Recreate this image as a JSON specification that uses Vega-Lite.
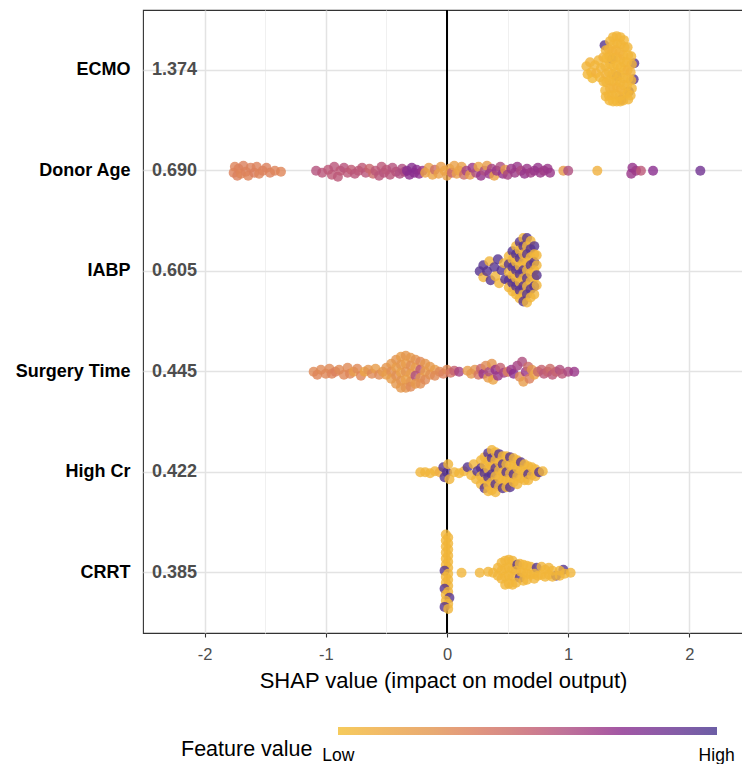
{
  "$schema": "https://vega.github.io/schema/vega-lite/v6.json",
  "width": 600,
  "height": 623,
  "autosize": {"type": "none"},
  "padding": {"left": 143, "top": 10, "right": 0, "bottom": 131},
  "config": {
    "font": "Liberation Sans",
    "view": {"stroke": "#333333", "strokeWidth": 1.1},
    "legend": {"padding": 0}
  },
  "layer": [
    {
      "data": {"values": [{"z": 0}]},
      "mark": {"type": "rule", "color": "#000000", "strokeWidth": 2},
      "encoding": {"x": {"field": "z", "type": "quantitative"}}
    },
    {
      "data": {"values": [
        {"f":"ECMO","s":1.30,"j":-0.25,"v":0.95},
        {"f":"ECMO","s":1.545,"j":-0.07,"v":0.95},
        {"f":"ECMO","s":1.54,"j":0.09,"v":0.95},
        {"f":"ECMO","s":1.50,"j":0.21,"v":0.95},
        {"f":"ECMO","s":1.36,"j":-0.11,"v":0.95},
        {"f":"ECMO","s":1.44,"j":0.29,"v":0.95},
        {"f":"ECMO","s":1.40,"j":0.06,"v":0.95},
        {"f":"ECMO","s":1.15,"j":-0.04,"v":0.05},
        {"f":"ECMO","s":1.16,"j":0.04,"v":0.04},
        {"f":"ECMO","s":1.18,"j":-0.08,"v":0.06},
        {"f":"ECMO","s":1.19,"j":0.02,"v":0.05},
        {"f":"ECMO","s":1.20,"j":0.08,"v":0.03},
        {"f":"ECMO","s":1.22,"j":-0.05,"v":0.05},
        {"f":"ECMO","s":1.23,"j":0.03,"v":0.07},
        {"f":"ECMO","s":1.25,"j":-0.10,"v":0.05},
        {"f":"ECMO","s":1.26,"j":0.07,"v":0.04},
        {"f":"ECMO","s":1.27,"j":-0.02,"v":0.05},
        {"f":"ECMO","s":1.29,"j":-0.13,"v":0.06},
        {"f":"ECMO","s":1.29,"j":0.11,"v":0.05},
        {"f":"ECMO","s":1.31,"j":-0.2,"v":0.05},
        {"f":"ECMO","s":1.315,"j":-0.12,"v":0.04},
        {"f":"ECMO","s":1.305,"j":-0.04,"v":0.05},
        {"f":"ECMO","s":1.31,"j":0.04,"v":0.06},
        {"f":"ECMO","s":1.315,"j":0.12,"v":0.05},
        {"f":"ECMO","s":1.305,"j":0.2,"v":0.04},
        {"f":"ECMO","s":1.31,"j":0.26,"v":0.05},
        {"f":"ECMO","s":1.345,"j":-0.29,"v":0.05},
        {"f":"ECMO","s":1.335,"j":-0.21,"v":0.06},
        {"f":"ECMO","s":1.34,"j":-0.14,"v":0.05},
        {"f":"ECMO","s":1.345,"j":-0.06,"v":0.04},
        {"f":"ECMO","s":1.335,"j":0.02,"v":0.05},
        {"f":"ECMO","s":1.34,"j":0.1,"v":0.05},
        {"f":"ECMO","s":1.345,"j":0.18,"v":0.06},
        {"f":"ECMO","s":1.335,"j":0.25,"v":0.05},
        {"f":"ECMO","s":1.34,"j":0.3,"v":0.04},
        {"f":"ECMO","s":1.37,"j":-0.33,"v":0.05},
        {"f":"ECMO","s":1.375,"j":-0.26,"v":0.05},
        {"f":"ECMO","s":1.365,"j":-0.19,"v":0.06},
        {"f":"ECMO","s":1.37,"j":-0.12,"v":0.05},
        {"f":"ECMO","s":1.375,"j":-0.04,"v":0.04},
        {"f":"ECMO","s":1.365,"j":0.04,"v":0.05},
        {"f":"ECMO","s":1.37,"j":0.11,"v":0.05},
        {"f":"ECMO","s":1.375,"j":0.18,"v":0.06},
        {"f":"ECMO","s":1.365,"j":0.25,"v":0.05},
        {"f":"ECMO","s":1.37,"j":0.31,"v":0.04},
        {"f":"ECMO","s":1.40,"j":-0.34,"v":0.05},
        {"f":"ECMO","s":1.405,"j":-0.27,"v":0.05},
        {"f":"ECMO","s":1.395,"j":-0.2,"v":0.06},
        {"f":"ECMO","s":1.40,"j":-0.13,"v":0.05},
        {"f":"ECMO","s":1.405,"j":-0.05,"v":0.04},
        {"f":"ECMO","s":1.395,"j":0.02,"v":0.05},
        {"f":"ECMO","s":1.40,"j":0.1,"v":0.05},
        {"f":"ECMO","s":1.405,"j":0.17,"v":0.06},
        {"f":"ECMO","s":1.395,"j":0.24,"v":0.05},
        {"f":"ECMO","s":1.40,"j":0.31,"v":0.04},
        {"f":"ECMO","s":1.43,"j":-0.33,"v":0.05},
        {"f":"ECMO","s":1.435,"j":-0.26,"v":0.05},
        {"f":"ECMO","s":1.425,"j":-0.18,"v":0.06},
        {"f":"ECMO","s":1.43,"j":-0.11,"v":0.05},
        {"f":"ECMO","s":1.435,"j":-0.03,"v":0.04},
        {"f":"ECMO","s":1.425,"j":0.05,"v":0.05},
        {"f":"ECMO","s":1.43,"j":0.12,"v":0.05},
        {"f":"ECMO","s":1.435,"j":0.19,"v":0.06},
        {"f":"ECMO","s":1.425,"j":0.26,"v":0.05},
        {"f":"ECMO","s":1.43,"j":0.31,"v":0.04},
        {"f":"ECMO","s":1.46,"j":-0.3,"v":0.05},
        {"f":"ECMO","s":1.465,"j":-0.23,"v":0.05},
        {"f":"ECMO","s":1.455,"j":-0.15,"v":0.06},
        {"f":"ECMO","s":1.46,"j":-0.08,"v":0.05},
        {"f":"ECMO","s":1.465,"j":0.0,"v":0.04},
        {"f":"ECMO","s":1.455,"j":0.08,"v":0.05},
        {"f":"ECMO","s":1.46,"j":0.15,"v":0.05},
        {"f":"ECMO","s":1.465,"j":0.23,"v":0.06},
        {"f":"ECMO","s":1.455,"j":0.3,"v":0.05},
        {"f":"ECMO","s":1.49,"j":-0.23,"v":0.05},
        {"f":"ECMO","s":1.495,"j":-0.15,"v":0.04},
        {"f":"ECMO","s":1.485,"j":-0.08,"v":0.05},
        {"f":"ECMO","s":1.49,"j":0.0,"v":0.06},
        {"f":"ECMO","s":1.495,"j":0.08,"v":0.05},
        {"f":"ECMO","s":1.485,"j":0.15,"v":0.05},
        {"f":"ECMO","s":1.49,"j":0.23,"v":0.04},
        {"f":"ECMO","s":1.495,"j":0.29,"v":0.05},
        {"f":"ECMO","s":1.52,"j":-0.14,"v":0.05},
        {"f":"ECMO","s":1.525,"j":-0.06,"v":0.05},
        {"f":"ECMO","s":1.515,"j":0.02,"v":0.06},
        {"f":"ECMO","s":1.52,"j":0.1,"v":0.05},
        {"f":"ECMO","s":1.525,"j":0.18,"v":0.04},
        {"f":"ECMO","s":1.515,"j":0.25,"v":0.05},

        {"f":"Donor Age","s":-1.76,"j":0.02,"v":0.34},
        {"f":"Donor Age","s":-1.75,"j":-0.04,"v":0.33},
        {"f":"Donor Age","s":-1.73,"j":0.05,"v":0.35},
        {"f":"Donor Age","s":-1.72,"j":-0.02,"v":0.34},
        {"f":"Donor Age","s":-1.70,"j":0.03,"v":0.32},
        {"f":"Donor Age","s":-1.68,"j":-0.05,"v":0.35},
        {"f":"Donor Age","s":-1.66,"j":0.01,"v":0.34},
        {"f":"Donor Age","s":-1.64,"j":0.05,"v":0.33},
        {"f":"Donor Age","s":-1.62,"j":-0.03,"v":0.34},
        {"f":"Donor Age","s":-1.59,"j":0.02,"v":0.36},
        {"f":"Donor Age","s":-1.57,"j":-0.04,"v":0.34},
        {"f":"Donor Age","s":-1.55,"j":0.03,"v":0.33},
        {"f":"Donor Age","s":-1.52,"j":0.0,"v":0.34},
        {"f":"Donor Age","s":-1.49,"j":-0.03,"v":0.35},
        {"f":"Donor Age","s":-1.46,"j":0.02,"v":0.34},
        {"f":"Donor Age","s":-1.42,"j":0.0,"v":0.33},
        {"f":"Donor Age","s":-1.37,"j":0.01,"v":0.32},
        {"f":"Donor Age","s":-1.08,"j":0.0,"v":0.58},
        {"f":"Donor Age","s":-1.03,"j":0.02,"v":0.56},
        {"f":"Donor Age","s":-0.98,"j":-0.01,"v":0.55},
        {"f":"Donor Age","s":-0.95,"j":0.04,"v":0.54},
        {"f":"Donor Age","s":-0.93,"j":-0.04,"v":0.56},
        {"f":"Donor Age","s":-0.90,"j":0.06,"v":0.55},
        {"f":"Donor Age","s":-0.88,"j":0.0,"v":0.54},
        {"f":"Donor Age","s":-0.85,"j":-0.03,"v":0.57},
        {"f":"Donor Age","s":-0.82,"j":0.02,"v":0.55},
        {"f":"Donor Age","s":-0.79,"j":-0.01,"v":0.53},
        {"f":"Donor Age","s":-0.76,"j":0.03,"v":0.56},
        {"f":"Donor Age","s":-0.73,"j":0.0,"v":0.55},
        {"f":"Donor Age","s":-0.70,"j":-0.03,"v":0.54},
        {"f":"Donor Age","s":-0.67,"j":0.02,"v":0.56},
        {"f":"Donor Age","s":-0.64,"j":-0.02,"v":0.48},
        {"f":"Donor Age","s":-0.61,"j":0.03,"v":0.46},
        {"f":"Donor Age","s":-0.59,"j":0.0,"v":0.55},
        {"f":"Donor Age","s":-0.56,"j":0.05,"v":0.56},
        {"f":"Donor Age","s":-0.54,"j":-0.04,"v":0.55},
        {"f":"Donor Age","s":-0.52,"j":0.02,"v":0.57},
        {"f":"Donor Age","s":-0.50,"j":-0.01,"v":0.55},
        {"f":"Donor Age","s":-0.47,"j":0.04,"v":0.56},
        {"f":"Donor Age","s":-0.45,"j":-0.03,"v":0.58},
        {"f":"Donor Age","s":-0.42,"j":0.01,"v":0.57},
        {"f":"Donor Age","s":-0.39,"j":0.03,"v":0.6},
        {"f":"Donor Age","s":-0.37,"j":-0.02,"v":0.6},
        {"f":"Donor Age","s":-0.35,"j":0.01,"v":0.62},
        {"f":"Donor Age","s":-0.33,"j":0.0,"v":0.76},
        {"f":"Donor Age","s":-0.31,"j":0.04,"v":0.75},
        {"f":"Donor Age","s":-0.29,"j":-0.03,"v":0.77},
        {"f":"Donor Age","s":-0.27,"j":0.02,"v":0.75},
        {"f":"Donor Age","s":-0.25,"j":-0.01,"v":0.76},
        {"f":"Donor Age","s":-0.23,"j":0.03,"v":0.74},
        {"f":"Donor Age","s":-0.20,"j":0.0,"v":0.7},
        {"f":"Donor Age","s":-0.18,"j":0.02,"v":0.16},
        {"f":"Donor Age","s":-0.15,"j":-0.03,"v":0.18},
        {"f":"Donor Age","s":-0.12,"j":0.04,"v":0.15},
        {"f":"Donor Age","s":-0.10,"j":-0.01,"v":0.45},
        {"f":"Donor Age","s":-0.07,"j":0.03,"v":0.17},
        {"f":"Donor Age","s":-0.05,"j":-0.04,"v":0.2},
        {"f":"Donor Age","s":-0.02,"j":0.0,"v":0.15},
        {"f":"Donor Age","s":0.00,"j":0.05,"v":0.18},
        {"f":"Donor Age","s":0.02,"j":-0.02,"v":0.16},
        {"f":"Donor Age","s":0.04,"j":0.02,"v":0.5},
        {"f":"Donor Age","s":0.06,"j":-0.05,"v":0.17},
        {"f":"Donor Age","s":0.08,"j":0.03,"v":0.2},
        {"f":"Donor Age","s":0.10,"j":0.0,"v":0.15},
        {"f":"Donor Age","s":0.12,"j":-0.04,"v":0.18},
        {"f":"Donor Age","s":0.14,"j":0.04,"v":0.45},
        {"f":"Donor Age","s":0.16,"j":0.0,"v":0.65},
        {"f":"Donor Age","s":0.19,"j":0.04,"v":0.2},
        {"f":"Donor Age","s":0.21,"j":-0.03,"v":0.7},
        {"f":"Donor Age","s":0.24,"j":0.02,"v":0.6},
        {"f":"Donor Age","s":0.26,"j":-0.04,"v":0.15},
        {"f":"Donor Age","s":0.28,"j":0.05,"v":0.72},
        {"f":"Donor Age","s":0.31,"j":0.0,"v":0.6},
        {"f":"Donor Age","s":0.33,"j":-0.05,"v":0.2},
        {"f":"Donor Age","s":0.35,"j":0.03,"v":0.7},
        {"f":"Donor Age","s":0.37,"j":-0.02,"v":0.65},
        {"f":"Donor Age","s":0.39,"j":0.05,"v":0.15},
        {"f":"Donor Age","s":0.41,"j":0.0,"v":0.7},
        {"f":"Donor Age","s":0.44,"j":-0.04,"v":0.6},
        {"f":"Donor Age","s":0.46,"j":0.03,"v":0.72},
        {"f":"Donor Age","s":0.48,"j":-0.01,"v":0.2},
        {"f":"Donor Age","s":0.50,"j":0.04,"v":0.65},
        {"f":"Donor Age","s":0.53,"j":-0.02,"v":0.7},
        {"f":"Donor Age","s":0.56,"j":0.02,"v":0.68},
        {"f":"Donor Age","s":0.58,"j":-0.04,"v":0.7},
        {"f":"Donor Age","s":0.61,"j":0.0,"v":0.62},
        {"f":"Donor Age","s":0.64,"j":0.03,"v":0.72},
        {"f":"Donor Age","s":0.66,"j":-0.02,"v":0.7},
        {"f":"Donor Age","s":0.69,"j":0.02,"v":0.68},
        {"f":"Donor Age","s":0.72,"j":0.0,"v":0.7},
        {"f":"Donor Age","s":0.75,"j":-0.03,"v":0.72},
        {"f":"Donor Age","s":0.77,"j":0.02,"v":0.7},
        {"f":"Donor Age","s":0.80,"j":0.0,"v":0.68},
        {"f":"Donor Age","s":0.83,"j":-0.02,"v":0.7},
        {"f":"Donor Age","s":0.85,"j":0.02,"v":0.7},
        {"f":"Donor Age","s":0.96,"j":0.0,"v":0.2},
        {"f":"Donor Age","s":1.00,"j":0.0,"v":0.6},
        {"f":"Donor Age","s":1.24,"j":0.0,"v":0.08},
        {"f":"Donor Age","s":1.52,"j":0.03,"v":0.7},
        {"f":"Donor Age","s":1.53,"j":-0.03,"v":0.72},
        {"f":"Donor Age","s":1.56,"j":0.0,"v":0.68},
        {"f":"Donor Age","s":1.60,"j":0.0,"v":0.55},
        {"f":"Donor Age","s":1.70,"j":0.0,"v":0.75},
        {"f":"Donor Age","s":2.09,"j":0.0,"v":0.85},

        {"f":"IABP","s":0.27,"j":0.0,"v":0.95},
        {"f":"IABP","s":0.30,"j":-0.06,"v":0.95},
        {"f":"IABP","s":0.30,"j":0.06,"v":0.05},
        {"f":"IABP","s":0.33,"j":0.0,"v":0.95},
        {"f":"IABP","s":0.35,"j":-0.1,"v":0.05},
        {"f":"IABP","s":0.36,"j":0.09,"v":0.95},
        {"f":"IABP","s":0.39,"j":-0.04,"v":0.95},
        {"f":"IABP","s":0.40,"j":0.05,"v":0.05},
        {"f":"IABP","s":0.42,"j":-0.12,"v":0.95},
        {"f":"IABP","s":0.43,"j":0.12,"v":0.05},
        {"f":"IABP","s":0.45,"j":-0.01,"v":0.95},
        {"f":"IABP","s":0.47,"j":-0.08,"v":0.05},
        {"f":"IABP","s":0.48,"j":0.08,"v":0.95},
        {"f":"IABP","s":0.51,"j":-0.15,"v":0.05},
        {"f":"IABP","s":0.51,"j":-0.07,"v":0.95},
        {"f":"IABP","s":0.51,"j":0.01,"v":0.05},
        {"f":"IABP","s":0.51,"j":0.09,"v":0.95},
        {"f":"IABP","s":0.51,"j":0.16,"v":0.05},
        {"f":"IABP","s":0.54,"j":-0.2,"v":0.95},
        {"f":"IABP","s":0.54,"j":-0.12,"v":0.05},
        {"f":"IABP","s":0.54,"j":-0.04,"v":0.95},
        {"f":"IABP","s":0.54,"j":0.04,"v":0.05},
        {"f":"IABP","s":0.54,"j":0.12,"v":0.95},
        {"f":"IABP","s":0.54,"j":0.2,"v":0.05},
        {"f":"IABP","s":0.57,"j":-0.25,"v":0.05},
        {"f":"IABP","s":0.57,"j":-0.17,"v":0.95},
        {"f":"IABP","s":0.57,"j":-0.09,"v":0.05},
        {"f":"IABP","s":0.57,"j":-0.01,"v":0.95},
        {"f":"IABP","s":0.57,"j":0.07,"v":0.05},
        {"f":"IABP","s":0.57,"j":0.15,"v":0.95},
        {"f":"IABP","s":0.57,"j":0.23,"v":0.05},
        {"f":"IABP","s":0.60,"j":-0.29,"v":0.95},
        {"f":"IABP","s":0.60,"j":-0.21,"v":0.05},
        {"f":"IABP","s":0.60,"j":-0.13,"v":0.95},
        {"f":"IABP","s":0.60,"j":-0.05,"v":0.05},
        {"f":"IABP","s":0.60,"j":0.03,"v":0.95},
        {"f":"IABP","s":0.60,"j":0.11,"v":0.05},
        {"f":"IABP","s":0.60,"j":0.19,"v":0.95},
        {"f":"IABP","s":0.60,"j":0.27,"v":0.05},
        {"f":"IABP","s":0.63,"j":-0.33,"v":0.05},
        {"f":"IABP","s":0.63,"j":-0.25,"v":0.95},
        {"f":"IABP","s":0.63,"j":-0.17,"v":0.05},
        {"f":"IABP","s":0.63,"j":-0.09,"v":0.05},
        {"f":"IABP","s":0.63,"j":-0.01,"v":0.95},
        {"f":"IABP","s":0.63,"j":0.07,"v":0.05},
        {"f":"IABP","s":0.63,"j":0.15,"v":0.95},
        {"f":"IABP","s":0.63,"j":0.23,"v":0.05},
        {"f":"IABP","s":0.63,"j":0.3,"v":0.95},
        {"f":"IABP","s":0.66,"j":-0.33,"v":0.95},
        {"f":"IABP","s":0.66,"j":-0.25,"v":0.05},
        {"f":"IABP","s":0.66,"j":-0.17,"v":0.95},
        {"f":"IABP","s":0.66,"j":-0.09,"v":0.05},
        {"f":"IABP","s":0.66,"j":-0.01,"v":0.05},
        {"f":"IABP","s":0.66,"j":0.07,"v":0.95},
        {"f":"IABP","s":0.66,"j":0.15,"v":0.05},
        {"f":"IABP","s":0.66,"j":0.23,"v":0.95},
        {"f":"IABP","s":0.66,"j":0.31,"v":0.05},
        {"f":"IABP","s":0.69,"j":-0.3,"v":0.05},
        {"f":"IABP","s":0.69,"j":-0.22,"v":0.95},
        {"f":"IABP","s":0.69,"j":-0.14,"v":0.05},
        {"f":"IABP","s":0.69,"j":-0.06,"v":0.95},
        {"f":"IABP","s":0.69,"j":0.02,"v":0.05},
        {"f":"IABP","s":0.69,"j":0.1,"v":0.05},
        {"f":"IABP","s":0.69,"j":0.18,"v":0.95},
        {"f":"IABP","s":0.69,"j":0.26,"v":0.05},
        {"f":"IABP","s":0.72,"j":-0.25,"v":0.95},
        {"f":"IABP","s":0.72,"j":-0.17,"v":0.05},
        {"f":"IABP","s":0.72,"j":-0.09,"v":0.95},
        {"f":"IABP","s":0.72,"j":-0.01,"v":0.05},
        {"f":"IABP","s":0.72,"j":0.07,"v":0.05},
        {"f":"IABP","s":0.72,"j":0.15,"v":0.95},
        {"f":"IABP","s":0.72,"j":0.23,"v":0.05},
        {"f":"IABP","s":0.74,"j":-0.16,"v":0.05},
        {"f":"IABP","s":0.74,"j":-0.06,"v":0.05},
        {"f":"IABP","s":0.74,"j":0.04,"v":0.95},
        {"f":"IABP","s":0.74,"j":0.14,"v":0.05},

        {"f":"Surgery Time","s":-1.10,"j":0.0,"v":0.3},
        {"f":"Surgery Time","s":-1.07,"j":0.03,"v":0.32},
        {"f":"Surgery Time","s":-1.04,"j":-0.02,"v":0.3},
        {"f":"Surgery Time","s":-1.00,"j":0.02,"v":0.31},
        {"f":"Surgery Time","s":-0.97,"j":-0.03,"v":0.3},
        {"f":"Surgery Time","s":-0.95,"j":0.02,"v":0.33},
        {"f":"Surgery Time","s":-0.92,"j":0.0,"v":0.35},
        {"f":"Surgery Time","s":-0.89,"j":-0.02,"v":0.3},
        {"f":"Surgery Time","s":-0.85,"j":0.03,"v":0.31},
        {"f":"Surgery Time","s":-0.82,"j":-0.04,"v":0.3},
        {"f":"Surgery Time","s":-0.80,"j":0.02,"v":0.32},
        {"f":"Surgery Time","s":-0.77,"j":0.0,"v":0.2},
        {"f":"Surgery Time","s":-0.74,"j":-0.03,"v":0.3},
        {"f":"Surgery Time","s":-0.71,"j":0.04,"v":0.32},
        {"f":"Surgery Time","s":-0.68,"j":0.0,"v":0.15},
        {"f":"Surgery Time","s":-0.65,"j":-0.02,"v":0.25},
        {"f":"Surgery Time","s":-0.62,"j":0.02,"v":0.3},
        {"f":"Surgery Time","s":-0.59,"j":-0.03,"v":0.2},
        {"f":"Surgery Time","s":-0.56,"j":0.03,"v":0.3},
        {"f":"Surgery Time","s":-0.53,"j":0.0,"v":0.22},
        {"f":"Surgery Time","s":-0.50,"j":-0.04,"v":0.25},
        {"f":"Surgery Time","s":-0.50,"j":0.03,"v":0.2},
        {"f":"Surgery Time","s":-0.46,"j":-0.08,"v":0.22},
        {"f":"Surgery Time","s":-0.46,"j":0.0,"v":0.28},
        {"f":"Surgery Time","s":-0.46,"j":0.07,"v":0.2},
        {"f":"Surgery Time","s":-0.42,"j":-0.12,"v":0.25},
        {"f":"Surgery Time","s":-0.42,"j":-0.04,"v":0.2},
        {"f":"Surgery Time","s":-0.42,"j":0.04,"v":0.27},
        {"f":"Surgery Time","s":-0.42,"j":0.12,"v":0.22},
        {"f":"Surgery Time","s":-0.38,"j":-0.15,"v":0.2},
        {"f":"Surgery Time","s":-0.38,"j":-0.07,"v":0.24},
        {"f":"Surgery Time","s":-0.38,"j":0.01,"v":0.18},
        {"f":"Surgery Time","s":-0.38,"j":0.09,"v":0.26},
        {"f":"Surgery Time","s":-0.38,"j":0.16,"v":0.22},
        {"f":"Surgery Time","s":-0.34,"j":-0.16,"v":0.24},
        {"f":"Surgery Time","s":-0.34,"j":-0.08,"v":0.2},
        {"f":"Surgery Time","s":-0.34,"j":0.0,"v":0.26},
        {"f":"Surgery Time","s":-0.34,"j":0.08,"v":0.18},
        {"f":"Surgery Time","s":-0.34,"j":0.16,"v":0.25},
        {"f":"Surgery Time","s":-0.30,"j":-0.14,"v":0.22},
        {"f":"Surgery Time","s":-0.30,"j":-0.06,"v":0.28},
        {"f":"Surgery Time","s":-0.30,"j":0.02,"v":0.2},
        {"f":"Surgery Time","s":-0.30,"j":0.1,"v":0.24},
        {"f":"Surgery Time","s":-0.30,"j":0.15,"v":0.3},
        {"f":"Surgery Time","s":-0.26,"j":-0.12,"v":0.26},
        {"f":"Surgery Time","s":-0.26,"j":-0.04,"v":0.2},
        {"f":"Surgery Time","s":-0.26,"j":0.04,"v":0.6},
        {"f":"Surgery Time","s":-0.26,"j":0.12,"v":0.22},
        {"f":"Surgery Time","s":-0.22,"j":-0.1,"v":0.3},
        {"f":"Surgery Time","s":-0.22,"j":-0.02,"v":0.55},
        {"f":"Surgery Time","s":-0.22,"j":0.06,"v":0.25},
        {"f":"Surgery Time","s":-0.22,"j":0.12,"v":0.28},
        {"f":"Surgery Time","s":-0.18,"j":-0.08,"v":0.24},
        {"f":"Surgery Time","s":-0.18,"j":0.0,"v":0.2},
        {"f":"Surgery Time","s":-0.18,"j":0.08,"v":0.3},
        {"f":"Surgery Time","s":-0.14,"j":-0.05,"v":0.22},
        {"f":"Surgery Time","s":-0.14,"j":0.03,"v":0.27},
        {"f":"Surgery Time","s":-0.10,"j":-0.02,"v":0.2},
        {"f":"Surgery Time","s":-0.10,"j":0.04,"v":0.3},
        {"f":"Surgery Time","s":-0.06,"j":0.0,"v":0.3},
        {"f":"Surgery Time","s":-0.03,"j":0.02,"v":0.35},
        {"f":"Surgery Time","s":0.00,"j":-0.02,"v":0.3},
        {"f":"Surgery Time","s":0.03,"j":0.01,"v":0.4},
        {"f":"Surgery Time","s":0.06,"j":-0.01,"v":0.5},
        {"f":"Surgery Time","s":0.10,"j":0.0,"v":0.65},
        {"f":"Surgery Time","s":0.17,"j":-0.01,"v":0.2},
        {"f":"Surgery Time","s":0.20,"j":0.02,"v":0.22},
        {"f":"Surgery Time","s":0.23,"j":-0.02,"v":0.25},
        {"f":"Surgery Time","s":0.26,"j":0.03,"v":0.4},
        {"f":"Surgery Time","s":0.28,"j":-0.03,"v":0.5},
        {"f":"Surgery Time","s":0.30,"j":0.02,"v":0.7},
        {"f":"Surgery Time","s":0.32,"j":-0.06,"v":0.3},
        {"f":"Surgery Time","s":0.34,"j":0.06,"v":0.2},
        {"f":"Surgery Time","s":0.35,"j":0.0,"v":0.6},
        {"f":"Surgery Time","s":0.37,"j":-0.08,"v":0.25},
        {"f":"Surgery Time","s":0.38,"j":0.08,"v":0.15},
        {"f":"Surgery Time","s":0.40,"j":-0.02,"v":0.72},
        {"f":"Surgery Time","s":0.42,"j":0.04,"v":0.7},
        {"f":"Surgery Time","s":0.44,"j":-0.04,"v":0.5},
        {"f":"Surgery Time","s":0.47,"j":0.01,"v":0.65},
        {"f":"Surgery Time","s":0.50,"j":0.0,"v":0.35},
        {"f":"Surgery Time","s":0.53,"j":-0.02,"v":0.7},
        {"f":"Surgery Time","s":0.55,"j":0.02,"v":0.75},
        {"f":"Surgery Time","s":0.58,"j":-0.06,"v":0.65},
        {"f":"Surgery Time","s":0.60,"j":0.05,"v":0.3},
        {"f":"Surgery Time","s":0.62,"j":-0.1,"v":0.6},
        {"f":"Surgery Time","s":0.63,"j":0.1,"v":0.2},
        {"f":"Surgery Time","s":0.65,"j":0.0,"v":0.7},
        {"f":"Surgery Time","s":0.67,"j":-0.05,"v":0.45},
        {"f":"Surgery Time","s":0.68,"j":0.07,"v":0.35},
        {"f":"Surgery Time","s":0.70,"j":-0.02,"v":0.25},
        {"f":"Surgery Time","s":0.72,"j":0.03,"v":0.15},
        {"f":"Surgery Time","s":0.75,"j":0.0,"v":0.45},
        {"f":"Surgery Time","s":0.78,"j":-0.02,"v":0.5},
        {"f":"Surgery Time","s":0.80,"j":0.02,"v":0.55},
        {"f":"Surgery Time","s":0.83,"j":0.0,"v":0.5},
        {"f":"Surgery Time","s":0.85,"j":-0.03,"v":0.45},
        {"f":"Surgery Time","s":0.87,"j":0.03,"v":0.55},
        {"f":"Surgery Time","s":0.90,"j":0.0,"v":0.5},
        {"f":"Surgery Time","s":0.93,"j":-0.02,"v":0.6},
        {"f":"Surgery Time","s":0.95,"j":0.02,"v":0.55},
        {"f":"Surgery Time","s":1.00,"j":0.0,"v":0.62},
        {"f":"Surgery Time","s":1.05,"j":0.0,"v":0.7},

        {"f":"High Cr","s":-0.22,"j":0.0,"v":0.05},
        {"f":"High Cr","s":-0.18,"j":0.0,"v":0.05},
        {"f":"High Cr","s":-0.14,"j":0.01,"v":0.05},
        {"f":"High Cr","s":-0.10,"j":-0.01,"v":0.05},
        {"f":"High Cr","s":-0.06,"j":0.0,"v":0.1},
        {"f":"High Cr","s":-0.03,"j":-0.05,"v":0.95},
        {"f":"High Cr","s":-0.02,"j":0.05,"v":0.95},
        {"f":"High Cr","s":0.00,"j":0.0,"v":0.95},
        {"f":"High Cr","s":0.01,"j":-0.08,"v":0.05},
        {"f":"High Cr","s":0.02,"j":0.07,"v":0.05},
        {"f":"High Cr","s":0.06,"j":0.0,"v":0.05},
        {"f":"High Cr","s":0.10,"j":0.01,"v":0.05},
        {"f":"High Cr","s":0.14,"j":-0.01,"v":0.05},
        {"f":"High Cr","s":0.17,"j":-0.05,"v":0.95},
        {"f":"High Cr","s":0.20,"j":0.03,"v":0.05},
        {"f":"High Cr","s":0.22,"j":-0.08,"v":0.05},
        {"f":"High Cr","s":0.24,"j":0.07,"v":0.05},
        {"f":"High Cr","s":0.25,"j":-0.01,"v":0.95},
        {"f":"High Cr","s":0.28,"j":-0.12,"v":0.05},
        {"f":"High Cr","s":0.28,"j":-0.04,"v":0.95},
        {"f":"High Cr","s":0.28,"j":0.04,"v":0.05},
        {"f":"High Cr","s":0.28,"j":0.12,"v":0.05},
        {"f":"High Cr","s":0.31,"j":-0.15,"v":0.05},
        {"f":"High Cr","s":0.31,"j":-0.07,"v":0.05},
        {"f":"High Cr","s":0.31,"j":0.01,"v":0.95},
        {"f":"High Cr","s":0.31,"j":0.09,"v":0.05},
        {"f":"High Cr","s":0.31,"j":0.16,"v":0.95},
        {"f":"High Cr","s":0.34,"j":-0.19,"v":0.95},
        {"f":"High Cr","s":0.34,"j":-0.11,"v":0.05},
        {"f":"High Cr","s":0.34,"j":-0.03,"v":0.05},
        {"f":"High Cr","s":0.34,"j":0.05,"v":0.95},
        {"f":"High Cr","s":0.34,"j":0.13,"v":0.05},
        {"f":"High Cr","s":0.34,"j":0.19,"v":0.05},
        {"f":"High Cr","s":0.37,"j":-0.22,"v":0.05},
        {"f":"High Cr","s":0.37,"j":-0.14,"v":0.95},
        {"f":"High Cr","s":0.37,"j":-0.06,"v":0.05},
        {"f":"High Cr","s":0.37,"j":0.02,"v":0.95},
        {"f":"High Cr","s":0.37,"j":0.1,"v":0.05},
        {"f":"High Cr","s":0.37,"j":0.18,"v":0.05},
        {"f":"High Cr","s":0.40,"j":-0.2,"v":0.05},
        {"f":"High Cr","s":0.40,"j":-0.12,"v":0.05},
        {"f":"High Cr","s":0.40,"j":-0.04,"v":0.95},
        {"f":"High Cr","s":0.40,"j":0.04,"v":0.05},
        {"f":"High Cr","s":0.40,"j":0.12,"v":0.95},
        {"f":"High Cr","s":0.40,"j":0.2,"v":0.05},
        {"f":"High Cr","s":0.43,"j":-0.18,"v":0.95},
        {"f":"High Cr","s":0.43,"j":-0.1,"v":0.05},
        {"f":"High Cr","s":0.43,"j":-0.02,"v":0.05},
        {"f":"High Cr","s":0.43,"j":0.06,"v":0.05},
        {"f":"High Cr","s":0.43,"j":0.14,"v":0.05},
        {"f":"High Cr","s":0.46,"j":-0.16,"v":0.05},
        {"f":"High Cr","s":0.46,"j":-0.08,"v":0.95},
        {"f":"High Cr","s":0.46,"j":0.0,"v":0.05},
        {"f":"High Cr","s":0.46,"j":0.08,"v":0.05},
        {"f":"High Cr","s":0.46,"j":0.16,"v":0.95},
        {"f":"High Cr","s":0.49,"j":-0.16,"v":0.05},
        {"f":"High Cr","s":0.49,"j":-0.08,"v":0.05},
        {"f":"High Cr","s":0.49,"j":0.0,"v":0.95},
        {"f":"High Cr","s":0.49,"j":0.08,"v":0.05},
        {"f":"High Cr","s":0.49,"j":0.15,"v":0.05},
        {"f":"High Cr","s":0.52,"j":-0.15,"v":0.95},
        {"f":"High Cr","s":0.52,"j":-0.07,"v":0.05},
        {"f":"High Cr","s":0.52,"j":0.01,"v":0.05},
        {"f":"High Cr","s":0.52,"j":0.09,"v":0.05},
        {"f":"High Cr","s":0.52,"j":0.15,"v":0.95},
        {"f":"High Cr","s":0.55,"j":-0.14,"v":0.05},
        {"f":"High Cr","s":0.55,"j":-0.06,"v":0.05},
        {"f":"High Cr","s":0.55,"j":0.02,"v":0.95},
        {"f":"High Cr","s":0.55,"j":0.1,"v":0.05},
        {"f":"High Cr","s":0.58,"j":-0.12,"v":0.05},
        {"f":"High Cr","s":0.58,"j":-0.04,"v":0.05},
        {"f":"High Cr","s":0.58,"j":0.04,"v":0.05},
        {"f":"High Cr","s":0.58,"j":0.12,"v":0.05},
        {"f":"High Cr","s":0.61,"j":-0.1,"v":0.95},
        {"f":"High Cr","s":0.61,"j":-0.02,"v":0.05},
        {"f":"High Cr","s":0.61,"j":0.06,"v":0.05},
        {"f":"High Cr","s":0.64,"j":-0.08,"v":0.05},
        {"f":"High Cr","s":0.64,"j":0.0,"v":0.05},
        {"f":"High Cr","s":0.64,"j":0.08,"v":0.05},
        {"f":"High Cr","s":0.67,"j":-0.06,"v":0.05},
        {"f":"High Cr","s":0.67,"j":0.02,"v":0.95},
        {"f":"High Cr","s":0.67,"j":0.08,"v":0.05},
        {"f":"High Cr","s":0.70,"j":-0.05,"v":0.05},
        {"f":"High Cr","s":0.70,"j":0.03,"v":0.05},
        {"f":"High Cr","s":0.73,"j":-0.03,"v":0.05},
        {"f":"High Cr","s":0.73,"j":0.04,"v":0.05},
        {"f":"High Cr","s":0.76,"j":0.0,"v":0.95},
        {"f":"High Cr","s":0.79,"j":-0.01,"v":0.05},

        {"f":"CRRT","s":-0.01,"j":-0.38,"v":0.05},
        {"f":"CRRT","s":0.01,"j":-0.35,"v":0.05},
        {"f":"CRRT","s":-0.01,"j":-0.32,"v":0.05},
        {"f":"CRRT","s":0.01,"j":-0.29,"v":0.05},
        {"f":"CRRT","s":-0.01,"j":-0.26,"v":0.05},
        {"f":"CRRT","s":0.01,"j":-0.23,"v":0.05},
        {"f":"CRRT","s":-0.01,"j":-0.2,"v":0.05},
        {"f":"CRRT","s":0.01,"j":-0.17,"v":0.05},
        {"f":"CRRT","s":-0.01,"j":-0.14,"v":0.05},
        {"f":"CRRT","s":0.01,"j":-0.11,"v":0.05},
        {"f":"CRRT","s":-0.01,"j":-0.08,"v":0.05},
        {"f":"CRRT","s":0.01,"j":-0.05,"v":0.05},
        {"f":"CRRT","s":-0.02,"j":-0.02,"v":0.95},
        {"f":"CRRT","s":0.01,"j":0.01,"v":0.05},
        {"f":"CRRT","s":-0.01,"j":0.04,"v":0.05},
        {"f":"CRRT","s":0.01,"j":0.07,"v":0.05},
        {"f":"CRRT","s":-0.01,"j":0.1,"v":0.05},
        {"f":"CRRT","s":0.01,"j":0.13,"v":0.05},
        {"f":"CRRT","s":-0.02,"j":0.16,"v":0.95},
        {"f":"CRRT","s":0.01,"j":0.19,"v":0.05},
        {"f":"CRRT","s":-0.01,"j":0.22,"v":0.05},
        {"f":"CRRT","s":0.02,"j":0.25,"v":0.95},
        {"f":"CRRT","s":-0.01,"j":0.28,"v":0.05},
        {"f":"CRRT","s":0.01,"j":0.31,"v":0.05},
        {"f":"CRRT","s":-0.02,"j":0.34,"v":0.95},
        {"f":"CRRT","s":0.01,"j":0.36,"v":0.05},
        {"f":"CRRT","s":0.12,"j":0.0,"v":0.05},
        {"f":"CRRT","s":0.27,"j":0.0,"v":0.05},
        {"f":"CRRT","s":0.34,"j":-0.01,"v":0.05},
        {"f":"CRRT","s":0.38,"j":0.0,"v":0.05},
        {"f":"CRRT","s":0.42,"j":-0.05,"v":0.05},
        {"f":"CRRT","s":0.42,"j":0.03,"v":0.05},
        {"f":"CRRT","s":0.45,"j":-0.1,"v":0.05},
        {"f":"CRRT","s":0.45,"j":-0.02,"v":0.05},
        {"f":"CRRT","s":0.45,"j":0.06,"v":0.05},
        {"f":"CRRT","s":0.48,"j":-0.12,"v":0.05},
        {"f":"CRRT","s":0.48,"j":-0.04,"v":0.05},
        {"f":"CRRT","s":0.48,"j":0.04,"v":0.05},
        {"f":"CRRT","s":0.48,"j":0.12,"v":0.05},
        {"f":"CRRT","s":0.51,"j":-0.13,"v":0.05},
        {"f":"CRRT","s":0.51,"j":-0.05,"v":0.05},
        {"f":"CRRT","s":0.51,"j":0.03,"v":0.05},
        {"f":"CRRT","s":0.51,"j":0.11,"v":0.05},
        {"f":"CRRT","s":0.54,"j":-0.12,"v":0.05},
        {"f":"CRRT","s":0.54,"j":-0.04,"v":0.05},
        {"f":"CRRT","s":0.54,"j":0.04,"v":0.05},
        {"f":"CRRT","s":0.54,"j":0.12,"v":0.05},
        {"f":"CRRT","s":0.58,"j":-0.08,"v":0.95},
        {"f":"CRRT","s":0.57,"j":-0.02,"v":0.05},
        {"f":"CRRT","s":0.60,"j":0.05,"v":0.95},
        {"f":"CRRT","s":0.57,"j":0.1,"v":0.05},
        {"f":"CRRT","s":0.60,"j":-0.09,"v":0.05},
        {"f":"CRRT","s":0.61,"j":-0.01,"v":0.05},
        {"f":"CRRT","s":0.63,"j":-0.08,"v":0.05},
        {"f":"CRRT","s":0.63,"j":0.0,"v":0.05},
        {"f":"CRRT","s":0.63,"j":0.08,"v":0.05},
        {"f":"CRRT","s":0.66,"j":-0.07,"v":0.05},
        {"f":"CRRT","s":0.66,"j":0.01,"v":0.05},
        {"f":"CRRT","s":0.66,"j":0.07,"v":0.05},
        {"f":"CRRT","s":0.69,"j":-0.06,"v":0.05},
        {"f":"CRRT","s":0.69,"j":0.02,"v":0.05},
        {"f":"CRRT","s":0.74,"j":-0.05,"v":0.95},
        {"f":"CRRT","s":0.72,"j":0.01,"v":0.05},
        {"f":"CRRT","s":0.72,"j":0.06,"v":0.05},
        {"f":"CRRT","s":0.75,"j":0.03,"v":0.05},
        {"f":"CRRT","s":0.78,"j":-0.06,"v":0.05},
        {"f":"CRRT","s":0.78,"j":0.02,"v":0.05},
        {"f":"CRRT","s":0.81,"j":-0.03,"v":0.05},
        {"f":"CRRT","s":0.81,"j":0.04,"v":0.05},
        {"f":"CRRT","s":0.84,"j":-0.05,"v":0.05},
        {"f":"CRRT","s":0.84,"j":0.02,"v":0.05},
        {"f":"CRRT","s":0.90,"j":0.03,"v":0.95},
        {"f":"CRRT","s":0.87,"j":-0.02,"v":0.05},
        {"f":"CRRT","s":0.87,"j":0.04,"v":0.05},
        {"f":"CRRT","s":0.96,"j":-0.03,"v":0.95},
        {"f":"CRRT","s":0.93,"j":-0.02,"v":0.05},
        {"f":"CRRT","s":0.93,"j":0.03,"v":0.05},
        {"f":"CRRT","s":0.97,"j":0.01,"v":0.05},
        {"f":"CRRT","s":1.02,"j":0.0,"v":0.05}
      ]},
      "mark": {"type": "circle", "size": 100, "opacity": 0.8, "stroke": null},
      "encoding": {
        "x": {
          "field": "s",
          "type": "quantitative",
          "scale": {"domain": [-2.508, 2.442], "nice": false, "zero": false},
          "axis": {
            "title": "SHAP value (impact on model output)",
            "titleFontSize": 22,
            "titleFontWeight": "normal",
            "titleColor": "#000000",
            "titlePadding": 8,
            "values": [-2, -1.5, -1, -0.5, 0, 0.5, 1, 1.5, 2],
            "labelExpr": "datum.value % 1 === 0 ? '' + datum.value : ''",
            "labelFontSize": 16.5,
            "labelColor": "#4D4D4D",
            "labelPadding": 9,
            "labelFlush": false,
            "labelOverlap": false,
            "domain": false,
            "ticks": true,
            "tickSize": 4,
            "tickWidth": 1.1,
            "tickColor": "#333333",
            "tickOpacity": {"condition": {"test": "datum.value % 1 !== 0", "value": 0}, "value": 1},
            "grid": true,
            "gridColor": {"condition": {"test": "datum.value % 1 !== 0", "value": "#EEEEEE"}, "value": "#E3E3E3"},
            "gridWidth": {"condition": {"test": "datum.value % 1 !== 0", "value": 0.9}, "value": 1.5}
          }
        },
        "y": {
          "field": "f",
          "type": "nominal",
          "scale": {"type": "band", "domain": ["ECMO", "Donor Age", "IABP", "Surgery Time", "High Cr", "CRRT"], "paddingInner": 0, "paddingOuter": 0.1},
          "axis": {
            "title": null,
            "ticks": false,
            "domain": false,
            "labelFontSize": 18,
            "labelFontWeight": "bold",
            "labelColor": "#000000",
            "labelPadding": 13,
            "grid": true,
            "gridColor": "#E3E3E3",
            "gridWidth": 1.5
          }
        },
        "yOffset": {
          "field": "j",
          "type": "quantitative",
          "scale": {"domain": [-0.5, 0.5], "range": [0, 100.5]}
        },
        "color": {
          "field": "v",
          "type": "quantitative",
          "scale": {
            "domain": [0, 0.25, 0.45, 0.6, 0.75, 1],
            "range": ["#F3BE33", "#E2954F", "#CB6D68", "#AE4F80", "#8A2D8E", "#47368F"]
          },
          "legend": {
            "orient": "none",
            "legendX": 38,
            "legendY": 717,
            "direction": "horizontal",
            "title": "Feature value",
            "titleOrient": "left",
            "titleFontSize": 21.5,
            "titleFontWeight": "normal",
            "titleColor": "#000000",
            "titlePadding": 25,
            "titleBaseline": "line-top",
            "titleLineHeight": 38,
            "gradientLength": 379,
            "gradientThickness": 8,
            "gradientStrokeWidth": 0,
            "values": [0.001, 0.999],
            "labelExpr": "datum.value < 0.5 ? 'Low' : 'High'",
            "labelFontSize": 17.5,
            "labelColor": "#000000",
            "labelOffset": 12
          }
        }
      }
    },
    {
      "data": {"values": [
        {"f": "ECMO", "m": "1.374"},
        {"f": "Donor Age", "m": "0.690"},
        {"f": "IABP", "m": "0.605"},
        {"f": "Surgery Time", "m": "0.445"},
        {"f": "High Cr", "m": "0.422"},
        {"f": "CRRT", "m": "0.385"}
      ]},
      "mark": {"type": "text", "align": "left", "baseline": "middle", "fontSize": 18, "fontWeight": "bold", "color": "#4D4D4D"},
      "encoding": {
        "x": {"datum": -2.434},
        "y": {"field": "f", "type": "nominal"},
        "text": {"field": "m"}
      }
    }
  ]
}
